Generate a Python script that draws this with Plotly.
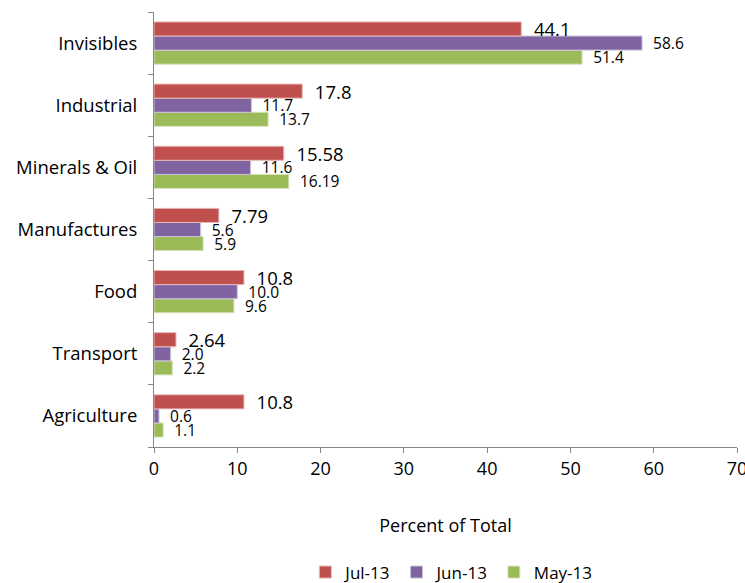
import plotly.graph_objects as go

categories = ["Agriculture", "Transport", "Food", "Manufactures", "Minerals & Oil", "Industrial", "Invisibles"]
jul13 = [10.8, 2.64, 10.8, 7.79, 15.58, 17.8, 44.1]
jun13 = [0.6, 2.0, 10.0, 5.6, 11.6, 11.7, 58.6]
may13 = [1.1, 2.2, 9.6, 5.9, 16.19, 13.7, 51.4]
x_ticks = [0, 10, 20, 30, 40, 50, 60, 70]

series = [
    ("May-13", may13, "#9BBB59", "#D7E4BD", 15.5),
    ("Jun-13", jun13, "#8064A2", "#CCC1DA", 15.5),
    ("Jul-13", jul13, "#C0504D", "#E6B9B8", 18.5),
]

fig = go.Figure()
for name, vals, col, lcol, fs in series:
    fig.add_trace(go.Bar(
        y=categories, x=vals, name=name, orientation="h",
        marker=dict(color=col, line=dict(color=lcol, width=1)),
        text=[str(v) for v in vals], texttemplate="  %{text}",
        textposition="outside", cliponaxis=False, constraintext="none",
        textfont=dict(size=fs, color="#000000", family="Open Sans"),
    ))

fig.update_layout(
    width=745, height=583,
    margin=dict(l=154, r=8, t=12, b=136, autoexpand=False),
    paper_bgcolor="white", plot_bgcolor="white",
    barmode="group", bargap=0.32, bargroupgap=0,
    font=dict(family="Open Sans", size=18, color="#000000"),
    showlegend=True,
    legend=dict(orientation="h", x=0.51, xanchor="center", y=0.018, yref="container",
                yanchor="middle", traceorder="reversed", font=dict(size=17),
                itemwidth=30, tracegroupgap=0),
    xaxis=dict(range=[0, 70], tickvals=x_ticks, showgrid=False, zeroline=False,
               showline=True, linecolor="#868686", linewidth=1, automargin=False,
               ticks="outside", ticklen=5, tickcolor="#868686", ticklabeloverflow="allow",
               title=dict(text="Percent of Total", font=dict(size=18), standoff=40),
               tickfont=dict(size=18)),
    yaxis=dict(showgrid=False, zeroline=False, showline=True, linecolor="#868686",
               linewidth=1, ticks="outside", ticklen=5, tickcolor="#868686", automargin=False,
               tickson="boundaries", tickfont=dict(size=18.5), ticklabelstandoff=12),
)

fig.write_html("out.html")
